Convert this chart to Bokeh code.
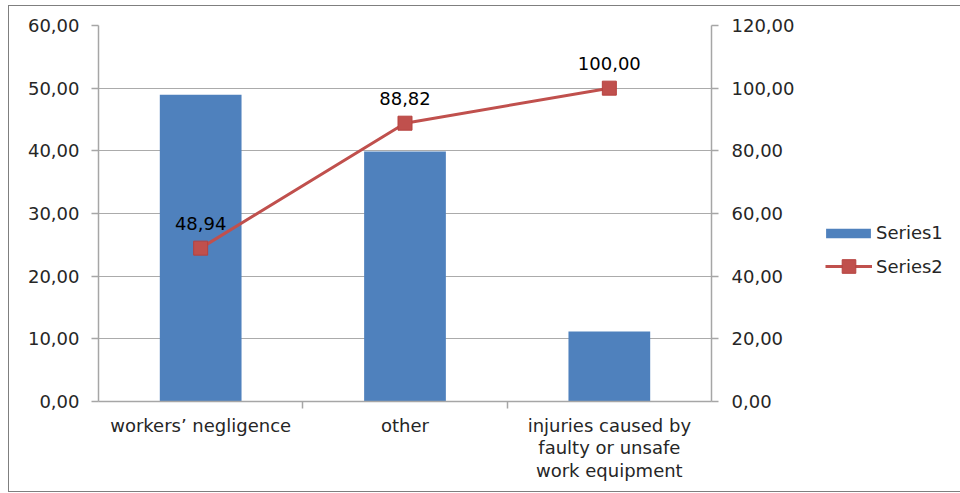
from bokeh.plotting import figure
from bokeh.layouts import row
from bokeh.models import (FactorRange, Range1d, LinearAxis, CategoricalAxis, CustomJSTickFormatter,
                          FixedTicker, Legend, LegendItem, ColumnDataSource, Grid)
from bokeh.core.properties import value
from bokeh.embed import file_html
from bokeh.resources import INLINE

# ---- data ----
categories = ["workers’ negligence", "other",
              "injuries caused by\nfaulty or unsafe\nwork equipment"]
series_names = ["Series1", "Series2"]
series1 = [48.94, 39.88, 11.18]
series2 = [48.94, 88.82, 100.00]
left_ticks = [0, 10, 20, 30, 40, 50, 60]
right_ticks = [0, 20, 40, 60, 80, 100, 120]

FONT = "DejaVu Sans"
FS = "18px"
AXIS = "#A6A6A6"
GRID = "#ABABAB"
TXT = "#262626"
BLUE = "#4F81BD"
RED = "#C0504D"

src = ColumnDataSource(dict(cat=categories, s1=series1, s2=series2,
                            lbl=[f"{v:.2f}".replace(".", ",") for v in series2]))

p = figure(x_range=FactorRange(*categories, range_padding=0),
           y_range=Range1d(left_ticks[0], left_ticks[-1]),
           x_axis_location=None, y_axis_location=None,
           toolbar_location=None, output_backend="svg",
           frame_width=613, frame_height=376,
           min_border_left=89, min_border_right=84, min_border_top=19, min_border_bottom=90)
p.outline_line_color = None
p.background_fill_color = "white"
p.border_fill_color = "white"
for g in p.grid:
    g.visible = False

# boundary ticks between categories: a factor range whose factor centres sit on the boundaries
bounds = [f"b{i}" for i in range(len(categories) + 1)]
p.extra_y_ranges = {"y2": Range1d(right_ticks[0], right_ticks[-1])}
p.extra_x_ranges = {"xb": FactorRange(*bounds, range_padding=-0.5, range_padding_units="absolute")}

fmt = CustomJSTickFormatter(code="return tick.toFixed(2).replace('.', ',');")

def style_axis(ax):
    ax.axis_line_color = AXIS
    ax.axis_line_width = 1.5
    ax.major_tick_line_color = AXIS
    ax.major_tick_line_width = 1.5
    ax.minor_tick_line_color = None
    ax.major_tick_in = 0
    ax.major_tick_out = 7
    ax.major_label_text_font = FONT
    ax.major_label_text_font_size = FS
    ax.major_label_text_color = TXT

yl = LinearAxis(ticker=FixedTicker(ticks=left_ticks), formatter=fmt)
style_axis(yl)
yl.major_label_standoff = 12
p.add_layout(yl, "left")

yr = LinearAxis(y_range_name="y2", ticker=FixedTicker(ticks=right_ticks), formatter=fmt)
style_axis(yr)
yr.major_label_standoff = 13
p.add_layout(yr, "right")

xt = CategoricalAxis(x_range_name="xb")
style_axis(xt)
xt.major_label_text_font_size = "0px"
xt.major_label_text_alpha = 0
xt.major_label_standoff = 0
p.add_layout(xt, "below")

xc = CategoricalAxis()
xc.axis_line_color = None
xc.major_tick_line_color = None
xc.minor_tick_line_color = None
xc.major_label_text_font = FONT
xc.major_label_text_font_size = FS
xc.major_label_text_color = TXT
xc.major_label_text_line_height = 1.08
xc.major_label_standoff = 0
p.add_layout(xc, "below")

p.add_layout(Grid(dimension=1, ticker=yl.ticker, grid_line_color=GRID, grid_line_width=1.2))

bars = p.vbar(x="cat", top="s1", width=0.4, source=src, fill_color=BLUE, line_color=None)
ln = p.line(x="cat", y="s2", source=src, y_range_name="y2", line_color=RED, line_width=3)
sc = p.scatter(x="cat", y="s2", source=src, y_range_name="y2", marker="square", size=14,
               fill_color=RED, line_color="#B6423F")
p.text(x="cat", y="s2", text="lbl", source=src, y_range_name="y2", text_align="center",
       text_baseline="middle", y_offset=-25, text_font=value(FONT), text_font_size=FS,
       text_color="#000000")

# ---- legend panel: same series and styles, in a range where the marks fall out of view ----
lf = figure(width=165, height=485, x_range=FactorRange(*categories), y_range=Range1d(-2, -1),
            x_axis_location=None, y_axis_location=None, toolbar_location=None,
            output_backend="svg", min_border=0)
lf.outline_line_color = None
lf.grid.visible = False
kb = lf.vbar(x="cat", top="s1", bottom="s1", width=0, source=src, fill_color=BLUE, line_color=None)
kl = lf.line(x="cat", y="s2", source=src, line_color=RED, line_width=3)
ks = lf.scatter(x="cat", y="s2", source=src, marker="square", size=14,
                fill_color=RED, line_color="#B6423F")

common = dict(label_text_font=FONT, label_text_font_size=FS, label_text_color=TXT,
              padding=0, margin=0, border_line_color=None, background_fill_alpha=0)
leg1 = Legend(items=[LegendItem(label=series_names[0], renderers=[kb])],
              location=(23, 158), glyph_width=56, glyph_height=12, label_standoff=0, **common)
leg2 = Legend(items=[LegendItem(label=series_names[1], renderers=[kl, ks])],
              location=(28, 118), glyph_width=47, glyph_height=34, label_standoff=4, **common)
lf.add_layout(leg1, "center")
lf.add_layout(leg2, "center")

layout = row(p, lf, spacing=0,
             styles={"border-left": "1px solid #7F7F7F", "border-top": "1px solid #7F7F7F",
                     "border-bottom": "1px solid #7F7F7F", "border-right": "none",
                     "margin-left": "8px", "margin-top": "5px"})

open("out.html", "w").write(file_html(layout, INLINE))
